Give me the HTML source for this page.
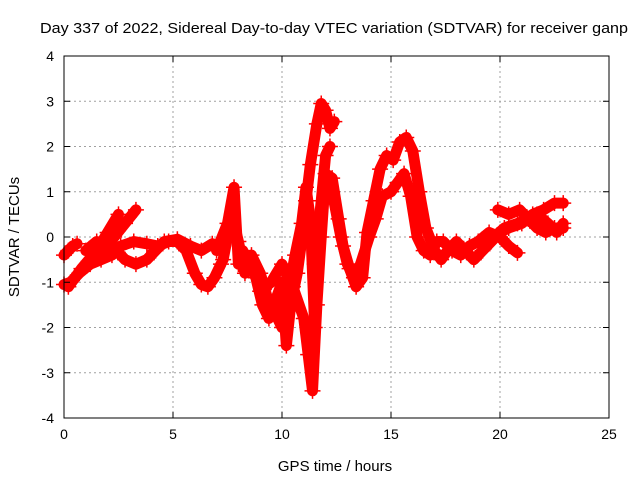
<!DOCTYPE html>
<html><head><meta charset="utf-8">
<style>
body{margin:0;background:#fff;}
svg{display:block;font-family:"Liberation Sans",sans-serif;}
</style></head>
<body>
<svg id="chart" width="640" height="480" viewBox="0 0 640 480">
<rect x="0" y="0" width="640" height="480" fill="#fff"/>
<g id="grid"></g>
<g id="series"></g>
<g id="axes"></g>
<text x="40" y="33" font-size="15" textLength="588" lengthAdjust="spacingAndGlyphs">Day 337 of 2022, Sidereal Day-to-day VTEC variation (SDTVAR) for receiver ganp</text>
<text x="335" y="471" font-size="15" text-anchor="middle">GPS time / hours</text>
<text x="0" y="0" font-size="15" text-anchor="middle" transform="translate(19,237) rotate(-90)">SDTVAR / TECUs</text>
</svg>
<script>
const xTicks=[0,5,10,15,20,25];
const yTicks=[-4,-3,-2,-1,0,1,2,3,4];
const trackA_t=[0,0.3,0.7,1.2,1.7,2.2,2.6,3.2,3.8,4.3,4.8,5.2,5.6,6.0,6.3,6.6,6.9,7.2];
const trackA_v=[-1.05,-1.0,-0.8,-0.6,-0.5,-0.4,-0.2,-0.1,-0.15,-0.2,-0.1,-0.1,-0.3,-0.8,-1.05,-1.1,-0.9,-0.6];
const trackB_t=[0,0.2,0.4,0.6];
const trackB_v=[-0.4,-0.3,-0.2,-0.15];
const trackC_t=[0.2,0.8,1.5,2.0,2.5];
const trackC_v=[-1.1,-0.7,-0.3,0.1,0.5];
const trackD_t=[1.8,2.3,2.8,3.3];
const trackD_v=[-0.3,0.0,0.3,0.6];
const trackE_t=[1.0,1.5,2.2,2.8,3.3,3.8,4.2,4.6,5.2,5.8,6.3,6.8,7.3];
const trackE_v=[-0.3,-0.1,-0.2,-0.5,-0.6,-0.5,-0.3,-0.1,-0.05,-0.2,-0.3,-0.15,-0.2];
const trackF_t=[7.0,7.5,7.8,8.0,8.2,8.5,8.8,9.1,9.4,9.7,10.0,10.2,10.4,10.7,10.9,11.1,11.3,11.6,11.8,12.0,12.2,12.4];
const trackF_v=[-0.3,0.3,1.1,-0.6,-0.3,-0.6,-0.9,-1.5,-1.8,-1.4,-1.0,-2.4,-1.5,-0.8,-0.1,0.8,1.6,2.5,2.95,2.8,2.4,2.55];
const trackG_t=[9.0,9.5,10.0,10.5,11.0,11.2,11.4,11.6,11.8,12.0,12.3,12.6,12.8,13.1,13.4,13.7,13.9,14.2,14.5,14.8,15.1,15.4,15.7,16.0,16.3,16.6,17.0,17.3,17.6,18.0,18.4,18.8,19.2,19.6,20.0,20.4,21.0,21.5,22.0,22.5,22.9];
const trackG_v=[-1.2,-1.0,-0.6,-1.1,-1.8,-2.6,-3.4,-1.5,0.0,1.4,1.3,0.4,-0.2,-0.7,-1.1,-0.9,0.1,0.8,1.5,1.8,1.7,2.1,2.2,1.9,1.0,0.2,-0.3,-0.5,-0.3,-0.1,-0.3,-0.5,-0.3,-0.1,0.1,0.2,0.3,0.5,0.6,0.75,0.75];
const trackH_t=[12.3,12.7,13.0,13.3,13.6,14.0,14.3,14.6,15.0,15.3,15.6,15.9,16.2,16.5,16.8,17.1,17.4,17.8,18.2,18.6,19.0,19.5,20.0,20.4,20.8];
const trackH_v=[1.0,0.0,-0.6,-0.9,-0.6,0.0,0.4,0.9,1.0,1.2,1.4,0.9,0.0,-0.3,-0.4,-0.1,-0.1,-0.3,-0.4,-0.2,-0.1,0.1,0.0,-0.2,-0.35];
const trackI_t=[19.9,20.4,20.9,21.3,21.7,22.1,22.5,22.9];
const trackI_v=[0.6,0.5,0.6,0.4,0.2,0.1,0.2,0.2];
const trackJ_t=[19.5,20.2,20.8,21.3,21.7,22.2,22.6,22.9];
const trackJ_v=[-0.1,0.2,0.3,0.4,0.5,0.3,0.1,0.3];
const trackK_t=[7.3,7.7,8.0,8.3,8.6,9.0,9.3,9.7,10.0,10.3,10.6,10.9,11.1,11.3,11.5];
const trackK_v=[-0.5,0.5,-0.1,-0.8,-0.4,-0.8,-1.3,-1.7,-2.0,-1.2,-0.4,0.3,1.1,0.4,-2.0];
const trackL_t=[11.5,11.8,12.0,12.2];
const trackL_v=[-0.6,0.8,1.8,2.0];
const tracks=[[trackA_t,trackA_v],[trackB_t,trackB_v],[trackC_t,trackC_v],[trackD_t,trackD_v],[trackE_t,trackE_v],[trackF_t,trackF_v],[trackG_t,trackG_v],[trackH_t,trackH_v],[trackI_t,trackI_v],[trackJ_t,trackJ_v],[trackK_t,trackK_v],[trackL_t,trackL_v]];

const X0=64,X1=609,Y0=418,Y1=56;
function xs(t){return X0+(t-0)/(25-0)*(X1-X0);}
function ys(v){return Y0-(v+4)/8*(Y0-Y1);}
const NS='http://www.w3.org/2000/svg';
function mk(tag,attrs,parent){const e=document.createElementNS(NS,tag);for(const k in attrs)e.setAttribute(k,attrs[k]);parent.appendChild(e);return e;}
const grid=document.getElementById('grid'),axes=document.getElementById('axes'),ser=document.getElementById('series');
xTicks.forEach(t=>{
  const x=xs(t);
  if(t>0&&t<25){const g=mk('line',{x1:x,y1:Y1,x2:x,y2:Y0,stroke:'#a0a0a0','stroke-dasharray':'2,3'},grid);
  
  }
  mk('line',{x1:x,y1:Y0,x2:x,y2:Y0-6,stroke:'#000'},axes);
  mk('line',{x1:x,y1:Y1,x2:x,y2:Y1+6,stroke:'#000'},axes);
  const l=mk('text',{x:x,y:Y0+21,'font-size':14,'text-anchor':'middle'},axes);l.textContent=t;
  
  
});
yTicks.forEach(v=>{
  const y=ys(v);
  if(v>-4&&v<4){const g=mk('line',{x1:X0,y1:y,x2:X1,y2:y,stroke:'#a0a0a0','stroke-dasharray':'2,3'},grid);
  
  }
  mk('line',{x1:X0,y1:y,x2:X0+6,y2:y,stroke:'#000'},axes);
  mk('line',{x1:X1,y1:y,x2:X1-6,y2:y,stroke:'#000'},axes);
  const l=mk('text',{x:X0-10,y:y+5,'font-size':14,'text-anchor':'end'},axes);l.textContent=v;
  
  
});
const fr=mk('rect',{x:X0,y:Y1,width:X1-X0,height:Y0-Y1,fill:'none',stroke:'#000'},axes);


tracks.forEach(([ts,vs],i)=>{
  const pts=ts.map((t,j)=>xs(t)+','+ys(vs[j])).join(' ');
  const pl=mk('polyline',{points:pts,fill:'none',stroke:'#f00','stroke-width':11,'stroke-linejoin':'round','stroke-linecap':'round'},ser);
  
  
  ts.forEach((t,j)=>{
    const x=xs(t),y=ys(vs[j]);
    const p=mk('path',{d:`M${x-8},${y}H${x+8}M${x},${y-8}V${y+8}`,stroke:'#f00','stroke-width':1.5},ser);
    
    
  });
});
</script>
</body></html>
